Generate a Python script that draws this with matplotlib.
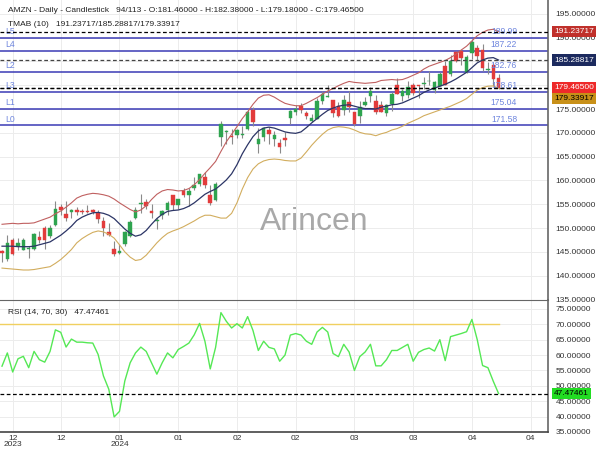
import matplotlib
matplotlib.use('Agg')
import matplotlib.pyplot as plt
from matplotlib.transforms import blended_transform_factory

plt.rcParams['font.family'] = ['Liberation Sans', 'DejaVu Sans']

# ---------------- data ----------------
opens = [145.25, 143.55, 147.58, 146.15, 145.48, 145.66, 145.52, 148.12, 149.93, 148.38,
         150.56, 154.40, 152.90, 153.30, 153.77, 153.56, 153.56, 153.72, 153.10, 151.54,
         149.20, 145.59, 144.69, 146.74, 148.33, 152.06, 155.04, 155.39, 153.53, 151.49,
         152.77, 153.83, 156.89, 154.85, 157.80, 156.95, 158.42, 159.34, 160.70, 157.00,
         155.87, 169.19, 170.20, 169.39, 169.48, 169.65, 170.90, 174.80, 167.73, 169.21,
         170.58, 168.74, 167.83, 168.94, 173.10, 174.28, 175.70, 174.08, 172.44, 173.01,
         176.75, 177.53, 176.93, 175.54, 174.83, 176.44, 174.31, 173.50, 175.90, 177.69,
         176.64, 175.80, 174.22, 176.14, 179.99, 177.75, 178.01, 180.15, 179.88, 180.17,
         180.79, 179.07, 179.90, 184.00, 182.38, 186.90, 187.24, 182.77, 186.74, 187.72,
         187.43, 183.27, 184.31, 181.46]
highs = [145.35, 148.57, 147.85, 147.92, 147.84, 146.19, 149.01, 149.46, 150.54, 150.57,
         155.76, 155.12, 155.63, 153.97, 154.35, 153.98, 154.78, 154.08, 153.89, 152.38,
         151.05, 147.38, 146.59, 149.40, 151.71, 154.42, 157.17, 156.20, 154.99, 152.15,
         153.78, 155.76, 157.05, 156.21, 158.51, 158.51, 160.72, 161.29, 161.73, 159.01,
         159.76, 172.50, 170.55, 170.71, 170.88, 171.43, 175.00, 175.39, 170.95, 171.21,
         171.17, 170.42, 168.71, 170.23, 174.80, 175.75, 176.37, 174.62, 174.05, 177.22,
         178.73, 180.14, 176.93, 176.46, 177.99, 178.79, 174.47, 176.76, 177.62, 179.53,
         177.93, 176.69, 176.09, 178.53, 181.42, 179.26, 180.99, 180.45, 180.00, 181.70,
         183.00, 180.79, 182.87, 185.10, 186.27, 187.29, 187.34, 186.27, 189.77, 188.38,
         188.69, 184.83, 184.57, 182.38]
lows = [142.81, 143.13, 144.28, 145.34, 145.40, 143.64, 145.30, 146.82, 145.52, 147.88,
        150.38, 152.69, 151.56, 152.10, 152.71, 153.03, 153.12, 152.95, 151.03, 148.39,
        148.33, 144.05, 144.53, 146.15, 148.21, 151.88, 153.12, 154.01, 152.15, 149.91,
        151.82, 152.74, 153.90, 153.93, 156.48, 154.55, 157.91, 158.90, 158.49, 154.81,
        155.62, 167.33, 167.70, 167.65, 168.94, 168.88, 170.58, 171.54, 165.75, 168.28,
        167.59, 167.17, 165.74, 167.14, 171.77, 173.70, 174.26, 172.86, 172.27, 172.85,
        176.07, 177.49, 173.30, 173.26, 173.72, 174.33, 171.47, 171.98, 175.55, 176.47,
        173.90, 174.28, 173.52, 174.64, 178.15, 176.75, 177.24, 177.95, 177.31, 179.26,
        179.95, 178.38, 179.80, 180.00, 181.97, 184.81, 184.20, 182.67, 185.51, 185.08,
        183.00, 182.26, 179.82, 179.18]
closes = [144.84, 146.88, 144.52, 146.88, 147.42, 145.89, 148.84, 147.42, 147.42, 149.97,
          154.07, 153.79, 152.12, 153.84, 153.42, 153.41, 153.34, 153.38, 151.94, 149.93,
          148.47, 144.57, 145.24, 149.10, 151.37, 153.73, 155.18, 154.62, 153.16, 151.71,
          153.50, 155.34, 154.78, 156.02, 156.87, 157.75, 159.12, 161.26, 159.00, 155.20,
          159.28, 171.81, 170.31, 169.15, 170.53, 169.84, 174.45, 172.34, 168.64, 170.98,
          169.80, 169.51, 167.08, 168.59, 174.58, 174.99, 174.73, 173.54, 173.16, 176.76,
          178.22, 177.58, 174.12, 173.51, 176.82, 175.35, 171.96, 175.39, 176.56, 178.75,
          174.42, 174.48, 175.90, 178.15, 178.15, 178.87, 179.71, 178.30, 179.83, 180.38,
          180.97, 180.69, 182.41, 180.00, 185.07, 185.19, 185.67, 185.95, 189.05, 186.13,
          183.62, 183.32, 181.28, 179.465]

tma_mid = [146.2, 146.2, 146.2, 146.1, 146.1, 146.1, 146.2, 146.5, 146.8, 147.1,
           147.8, 148.5, 149.4, 150.4, 151.6, 152.3, 152.8, 153.2, 153.3, 153.1,
           152.7, 152.0, 150.9, 149.8, 148.9, 148.3, 148.6, 149.5, 150.8, 152.0,
           152.9, 153.5, 153.7, 153.8, 154.1, 154.6, 155.3, 156.2, 157.1, 157.7,
           158.2, 159.1, 160.1, 161.4, 163.3, 165.6, 167.5, 169.2, 170.4, 171.0,
           171.2, 171.0, 170.6, 170.2, 170.0, 169.9, 170.2, 171.1, 172.1, 173.0,
           173.9, 174.7, 175.2, 175.6, 175.8, 175.9, 175.6, 175.3, 175.1, 175.1,
           175.0, 175.4, 175.6, 175.9, 176.0, 176.3, 176.8, 177.3, 177.8, 178.5,
           179.0, 179.4, 179.8, 180.2, 180.7, 181.3, 182.0, 182.7, 183.7, 184.7,
           185.3, 185.7, 185.8, 185.28817]
tma_up = [150.8, 150.9, 151.0, 150.9, 151.0, 151.0, 151.1, 151.5, 151.9, 152.3,
          153.0, 153.6, 154.4, 155.3, 156.3, 156.8, 157.1, 157.3, 157.2, 157.0,
          156.7, 156.1, 155.3, 154.6, 153.9, 153.4, 153.8, 154.7, 156.0, 157.1,
          157.8, 158.1, 158.0, 157.8, 157.9, 158.3, 159.1, 160.2, 161.5, 162.7,
          164.0, 166.1, 168.1, 169.7, 171.3, 173.0, 174.4, 176.0, 177.3, 177.9,
          178.0, 177.5, 176.8, 176.2, 175.9, 175.7, 175.7, 176.2, 176.8, 177.4,
          178.1, 178.8, 179.3, 179.9, 180.4, 180.8, 180.6, 180.5, 180.4, 180.5,
          180.6, 181.0, 181.1, 181.2, 181.1, 181.2, 181.6, 182.1, 182.6, 183.4,
          184.0, 184.4, 184.8, 185.2, 185.8, 186.5, 187.4, 188.2, 189.3, 190.4,
          191.1, 191.6, 191.75, 191.23717]
tma_lo = [141.6, 141.5, 141.4, 141.3, 141.2, 141.2, 141.3, 141.5, 141.7, 141.9,
          142.6, 143.4, 144.4, 145.5, 146.9, 147.8, 148.5, 149.1, 149.4, 149.2,
          148.7, 147.9, 146.5, 145.0, 143.9, 143.2, 143.4, 144.3, 145.6, 146.9,
          148.0, 148.9, 149.4, 149.8, 150.3, 150.9, 151.5, 152.2, 152.7, 152.7,
          152.4, 152.1, 152.1, 153.1, 155.3, 158.2, 160.6, 162.4, 163.5, 164.1,
          164.4, 164.5, 164.4, 164.2, 164.1, 164.1, 164.7, 166.0, 167.4, 168.6,
          169.7, 170.6, 171.1, 171.3, 171.2, 171.0, 170.6, 170.1, 169.8, 169.7,
          169.4, 169.8, 170.1, 170.6, 170.9, 171.4, 172.0, 172.5, 173.0, 173.6,
          174.0, 174.4, 174.8, 175.2, 175.6, 176.1, 176.6, 177.2, 178.1, 179.0,
          179.5, 179.8, 179.85, 179.33917]

rsi = [56.4, 60.7, 54.5, 58.8, 59.6, 55.9, 61.2, 58.5, 57.7, 61.2,
       68.2, 67.4, 62.6, 65.2, 64.2, 64.2, 64.0, 63.9, 60.2, 53.2,
       48.9, 39.9, 41.7, 51.6, 57.5, 60.7, 62.6, 61.2, 57.5, 53.8,
       57.5, 60.7, 59.1, 61.8, 62.8, 63.9, 66.6, 70.3, 64.5, 55.5,
       62.5, 73.8, 71.0, 68.8, 70.2, 68.8, 72.5, 68.0, 61.5, 64.5,
       62.5, 62.0, 58.0, 60.0, 66.5, 67.0, 66.5, 64.5, 63.5, 67.5,
       69.0, 67.5, 60.5, 59.5, 63.5, 61.0, 55.0, 59.5, 61.0, 63.5,
       56.5, 56.5, 58.5, 61.5, 61.5, 62.5, 63.5, 58.0, 60.9, 61.8,
       62.3, 61.3, 65.0, 58.2, 66.0, 66.5, 67.0, 67.6, 71.6, 65.0,
       56.6, 55.9, 51.5, 47.47461]

level_names = ['L0', 'L1', 'L3', 'L2', 'L4', 'L5']
level_values = [171.58, 175.04, 178.61, 182.76, 187.22, 189.99]

tick_idx = [2, 11, 22, 33, 44, 55, 66, 77, 88, 99]
tick_labels = ['12\n2023', '12', '01\n2024', '01', '02', '02', '03', '03', '04', '04']

price_ticks = [135, 140, 145, 150, 155, 160, 165, 170, 175, 180, 185, 190, 195]
hidden_price_ticks = [180, 185]   # covered by the value badges in the reference
rsi_ticks = [35, 40, 45, 50, 55, 60, 65, 70, 75]

last_close = 179.465
rsi_last = 47.47461

# ---------------- figure ----------------
fig = plt.figure(figsize=(6, 4.5), dpi=100)
W, H = 600, 450
ax = fig.add_axes([0, 1 - 300 / H, 548 / W, 300 / H])
ax2 = fig.add_axes([0, (H - 432) / H, 548 / W, 132 / H], sharex=ax)

GREEN = '#2ea44f'
RED = '#e23b3b'
grid_c = '#ececec'
FS = 6.0

n = len(closes)
xs = list(range(n))
for i in xs:
    o, h, l, c = opens[i], highs[i], lows[i], closes[i]
    col = GREEN if c >= o else RED
    ax.vlines(i, l, h, color='#8a8a8a', lw=0.8, zorder=3)
    bh = max(abs(c - o), 0.18)
    ax.bar(i, bh, bottom=min(o, c), width=0.66, color=col, edgecolor=col, lw=0.3, zorder=4)

ax.plot(xs, tma_up, color='#c06060', lw=0.8, zorder=5)
ax.plot(xs, tma_mid, color='#2c3566', lw=0.9, zorder=5)
ax.plot(xs, tma_lo, color='#d2ad5e', lw=0.8, zorder=5)

btr = blended_transform_factory(ax.transAxes, ax.transData)
for name, v in zip(level_names, level_values):
    ax.axhline(v, color='#3a3ab5', lw=1.1, zorder=2)
    ax.text(0.009, v + 0.35, name, transform=btr, fontsize=6.2, color='#6f86de',
            va='bottom', ha='left', zorder=6)
    ax.text(504 / 548, v + 0.35, f'{v:.2f}', transform=btr, fontsize=6.2,
            color='#6f86de', va='bottom', ha='center', zorder=6)

for v, col in [(tma_up[-1], 'black'), (tma_mid[-1], '#444444'),
               (last_close, 'black'), (tma_lo[-1], 'black')]:
    ax.axhline(v, color=col, lw=0.9, ls=(0, (3, 2)), zorder=6)

ax.set_xlim(-0.375, 102.25)
ax.set_ylim(134.9, 197.9)
ax.set_yticks(price_ticks)
ax.set_yticklabels(['' if t in hidden_price_ticks else f'{t:.5f}' for t in price_ticks])
ax.yaxis.tick_right()
ax.tick_params(axis='y', length=0, pad=5.5, labelsize=FS, colors='#333333')
ax.tick_params(axis='x', length=0, labelbottom=False)
ax.set_xticks(tick_idx)
ax.grid(True, color=grid_c, lw=0.7, zorder=0)
for s in ['left', 'top', 'bottom']:
    ax.spines[s].set_visible(False)
ax.spines['right'].set_color('#666666')
ax.spines['right'].set_linewidth(1.2)


def badge(axis, v, text, fc, tc, dy=0):
    axis.annotate(text, xy=(1.0, v),
                  xycoords=blended_transform_factory(axis.transAxes, axis.transData),
                  xytext=(4.5, dy), textcoords='offset points', fontsize=FS, color=tc,
                  va='center', ha='left', annotation_clip=False, zorder=10,
                  bbox=dict(boxstyle='square,pad=0.25', fc=fc, ec='none'))


badge(ax, tma_up[-1], f'{tma_up[-1]:.5f}', '#c0302b', 'white')
badge(ax, tma_mid[-1], f'{tma_mid[-1]:.5f}', '#1c2a5e', 'white')
badge(ax, last_close, f'{last_close:.5f}', '#ee2a2a', 'white')
badge(ax, tma_lo[-1], f'{tma_lo[-1]:.5f}', '#c89018', 'black', dy=-7.5)

# ---------------- RSI ----------------
ax2.plot(xs, rsi, color='#55e855', lw=1.0, zorder=4)
ax2.plot([xs[0] - 0.375, xs[-1]], [70, 70], color='#f0d060', lw=1.0, zorder=3)
ax2.axhline(rsi_last, color='black', lw=0.9, ls=(0, (3, 2)), zorder=5)
ax2.set_ylim(35.0, 77.9)
ax2.set_yticks(rsi_ticks)
ax2.set_yticklabels([f'{t:.5f}' for t in rsi_ticks])
ax2.yaxis.tick_right()
ax2.tick_params(axis='y', length=0, pad=5.5, labelsize=FS, colors='#333333')
ax2.set_xticks(tick_idx)
ax2.set_xticklabels(tick_labels)
ax2.tick_params(axis='x', length=0, pad=2, labelsize=FS, colors='#333333')
for lab in ax2.get_xticklabels():
    lab.set_linespacing(0.9)
ax2.grid(True, color=grid_c, lw=0.7, zorder=0)
ax2.spines['left'].set_visible(False)
ax2.spines['top'].set_color('#666666')
ax2.spines['right'].set_color('#666666')
ax2.spines['right'].set_linewidth(1.2)
ax2.spines['bottom'].set_color('#444444')
ax2.spines['bottom'].set_linewidth(1.2)

badge(ax2, rsi_last, f'{rsi_last:.5f}', '#22dd22', 'black')

# ---------------- texts ----------------
fig.text(8 / W, 1 - 10 / H,
         'AMZN - Daily - Candlestick   94/113 - O:181.46000 - H:182.38000 - L:179.18000 - C:179.46500',
         fontsize=FS, color='#222222', va='center', ha='left')
fig.text(8 / W, 1 - 25 / H, 'TMAB (10)   191.23717/185.28817/179.33917',
         fontsize=FS, color='#222222', va='center', ha='left')
fig.text(8 / W, 1 - 313 / H, 'RSI (14, 70, 30)   47.47461',
         fontsize=FS, color='#222222', va='center', ha='left')
fig.text(314 / W, 1 - 222 / H, 'Arincen', fontsize=23, color='#8c8c8c', alpha=0.75,
         va='center', ha='center')

fig.savefig('out.png', dpi=100, facecolor='white')
